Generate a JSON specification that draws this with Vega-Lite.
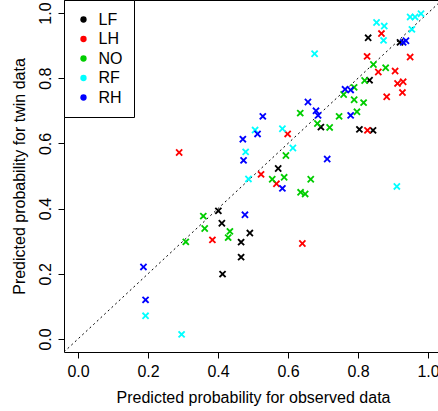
{
  "$schema": "https://vega.github.io/schema/vega-lite/v6.json",
  "width": 378,
  "height": 352,
  "autosize": {"type": "none"},
  "padding": {"left": 64, "top": 0, "right": -4, "bottom": 59},
  "config": {"view": {"stroke": "black", "strokeWidth": 1}, "font": "Liberation Sans"},
  "datasets": {
    "diag": [{"x": -0.04, "y": -0.04}, {"x": 1.04, "y": 1.04}],
    "pts": [
      {"g": "LF", "x": 0.829, "y": 0.924},
      {"g": "LF", "x": 0.920, "y": 0.910},
      {"g": "LF", "x": 0.833, "y": 0.794},
      {"g": "LF", "x": 0.694, "y": 0.650},
      {"g": "LF", "x": 0.804, "y": 0.643},
      {"g": "LF", "x": 0.843, "y": 0.640},
      {"g": "LF", "x": 0.572, "y": 0.523},
      {"g": "LF", "x": 0.401, "y": 0.393},
      {"g": "LF", "x": 0.411, "y": 0.355},
      {"g": "LF", "x": 0.491, "y": 0.325},
      {"g": "LF", "x": 0.466, "y": 0.297},
      {"g": "LF", "x": 0.466, "y": 0.251},
      {"g": "LF", "x": 0.413, "y": 0.199},
      {"g": "LH", "x": 0.867, "y": 0.937},
      {"g": "LH", "x": 0.826, "y": 0.867},
      {"g": "LH", "x": 0.949, "y": 0.865},
      {"g": "LH", "x": 0.858, "y": 0.819},
      {"g": "LH", "x": 0.906, "y": 0.822},
      {"g": "LH", "x": 0.913, "y": 0.784},
      {"g": "LH", "x": 0.929, "y": 0.789},
      {"g": "LH", "x": 0.927, "y": 0.756},
      {"g": "LH", "x": 0.882, "y": 0.743},
      {"g": "LH", "x": 0.827, "y": 0.640},
      {"g": "LH", "x": 0.599, "y": 0.629},
      {"g": "LH", "x": 0.289, "y": 0.572},
      {"g": "LH", "x": 0.523, "y": 0.505},
      {"g": "LH", "x": 0.567, "y": 0.476},
      {"g": "LH", "x": 0.384, "y": 0.304},
      {"g": "LH", "x": 0.641, "y": 0.293},
      {"g": "NO", "x": 0.844, "y": 0.842},
      {"g": "NO", "x": 0.879, "y": 0.832},
      {"g": "NO", "x": 0.819, "y": 0.793},
      {"g": "NO", "x": 0.789, "y": 0.772},
      {"g": "NO", "x": 0.759, "y": 0.750},
      {"g": "NO", "x": 0.789, "y": 0.734},
      {"g": "NO", "x": 0.816, "y": 0.725},
      {"g": "NO", "x": 0.746, "y": 0.683},
      {"g": "NO", "x": 0.797, "y": 0.697},
      {"g": "NO", "x": 0.635, "y": 0.693},
      {"g": "NO", "x": 0.684, "y": 0.661},
      {"g": "NO", "x": 0.719, "y": 0.649},
      {"g": "NO", "x": 0.594, "y": 0.563},
      {"g": "NO", "x": 0.555, "y": 0.490},
      {"g": "NO", "x": 0.589, "y": 0.496},
      {"g": "NO", "x": 0.665, "y": 0.490},
      {"g": "NO", "x": 0.636, "y": 0.450},
      {"g": "NO", "x": 0.649, "y": 0.445},
      {"g": "NO", "x": 0.358, "y": 0.377},
      {"g": "NO", "x": 0.362, "y": 0.339},
      {"g": "NO", "x": 0.434, "y": 0.330},
      {"g": "NO", "x": 0.429, "y": 0.311},
      {"g": "NO", "x": 0.308, "y": 0.298},
      {"g": "RF", "x": 0.853, "y": 0.971},
      {"g": "RF", "x": 0.875, "y": 0.960},
      {"g": "RF", "x": 0.949, "y": 0.988},
      {"g": "RF", "x": 0.963, "y": 0.988},
      {"g": "RF", "x": 0.980, "y": 0.998},
      {"g": "RF", "x": 0.954, "y": 0.950},
      {"g": "RF", "x": 0.873, "y": 0.916},
      {"g": "RF", "x": 0.676, "y": 0.875},
      {"g": "RF", "x": 0.506, "y": 0.641},
      {"g": "RF", "x": 0.584, "y": 0.645},
      {"g": "RF", "x": 0.479, "y": 0.574},
      {"g": "RF", "x": 0.614, "y": 0.586},
      {"g": "RF", "x": 0.487, "y": 0.491},
      {"g": "RF", "x": 0.911, "y": 0.468},
      {"g": "RF", "x": 0.193, "y": 0.071},
      {"g": "RF", "x": 0.296, "y": 0.014},
      {"g": "RH", "x": 0.929, "y": 0.910},
      {"g": "RH", "x": 0.937, "y": 0.915},
      {"g": "RH", "x": 0.763, "y": 0.766},
      {"g": "RH", "x": 0.779, "y": 0.764},
      {"g": "RH", "x": 0.657, "y": 0.727},
      {"g": "RH", "x": 0.680, "y": 0.700},
      {"g": "RH", "x": 0.686, "y": 0.686},
      {"g": "RH", "x": 0.528, "y": 0.683},
      {"g": "RH", "x": 0.779, "y": 0.686},
      {"g": "RH", "x": 0.471, "y": 0.613},
      {"g": "RH", "x": 0.513, "y": 0.629},
      {"g": "RH", "x": 0.473, "y": 0.548},
      {"g": "RH", "x": 0.712, "y": 0.552},
      {"g": "RH", "x": 0.584, "y": 0.462},
      {"g": "RH", "x": 0.477, "y": 0.381},
      {"g": "RH", "x": 0.187, "y": 0.221},
      {"g": "RH", "x": 0.193, "y": 0.120}
    ]
  },
  "encoding": {
    "x": {
      "field": "x", "type": "quantitative",
      "scale": {"domain": [-0.04, 1.04], "nice": false, "zero": false},
      "axis": {
        "title": "Predicted probability for observed data",
        "values": [0, 0.2, 0.4, 0.6, 0.8, 1],
        "format": ".1f",
        "domain": false, "grid": false,
        "tickColor": "black", "tickSize": 6, "tickWidth": 1,
        "labelFontSize": 16, "labelColor": "black", "labelBaseline": "alphabetic",
        "labelPadding": 18, "labelFlush": false, "labelOverlap": false, "labelBound": false,
        "titleFontSize": 16, "titleFontWeight": "normal", "titleColor": "black",
        "titleBaseline": "alphabetic", "titleAlign": "center", "titleX": 189, "titleY": 50
      }
    },
    "y": {
      "field": "y", "type": "quantitative",
      "scale": {"domain": [-0.04, 1.04], "nice": false, "zero": false},
      "axis": {
        "title": "Predicted probability for twin data",
        "values": [0, 0.2, 0.4, 0.6, 0.8, 1],
        "format": ".1f",
        "domain": false, "grid": false,
        "tickColor": "black", "tickSize": 6, "tickWidth": 1,
        "labelFontSize": 16, "labelColor": "black", "labelAngle": 270,
        "labelAlign": "center", "labelBaseline": "alphabetic",
        "labelPadding": 8, "labelFlush": false, "labelOverlap": false, "labelBound": false,
        "titleFontSize": 16, "titleFontWeight": "normal", "titleColor": "black",
        "titleAngle": 270, "titleAlign": "center", "titleBaseline": "alphabetic",
        "titleX": -40, "titleY": 176
      }
    }
  },
  "layer": [
    {
      "data": {"name": "diag"},
      "mark": {"type": "line", "color": "black", "strokeWidth": 1, "strokeDash": [2, 3], "clip": true}
    },
    {
      "data": {"name": "pts"},
      "mark": {
        "type": "point",
        "shape": "M-0.65,-1L0,-0.35L0.65,-1L1,-0.65L0.35,0L1,0.65L0.65,1L0,0.35L-0.65,1L-1,0.65L-0.35,0L-1,-0.65Z",
        "filled": true, "size": 55, "opacity": 1, "strokeWidth": 0
      },
      "encoding": {
        "color": {
          "field": "g", "type": "nominal",
          "scale": {"domain": ["LF", "LH", "NO", "RF", "RH"], "range": ["#000000", "#FF0000", "#00CD00", "#00FFFF", "#0000FF"]},
          "legend": {
            "title": null, "orient": "none", "legendX": 0, "legendY": 0,
            "fillColor": "white", "strokeColor": "black",
            "padding": 11.5, "symbolType": "circle", "symbolSize": 40, "symbolStrokeWidth": 0,
            "symbolOpacity": 1,
            "labelFontSize": 16, "labelColor": "black", "labelOffset": 7, "rowPadding": 3.5
          }
        }
      }
    }
  ]
}
